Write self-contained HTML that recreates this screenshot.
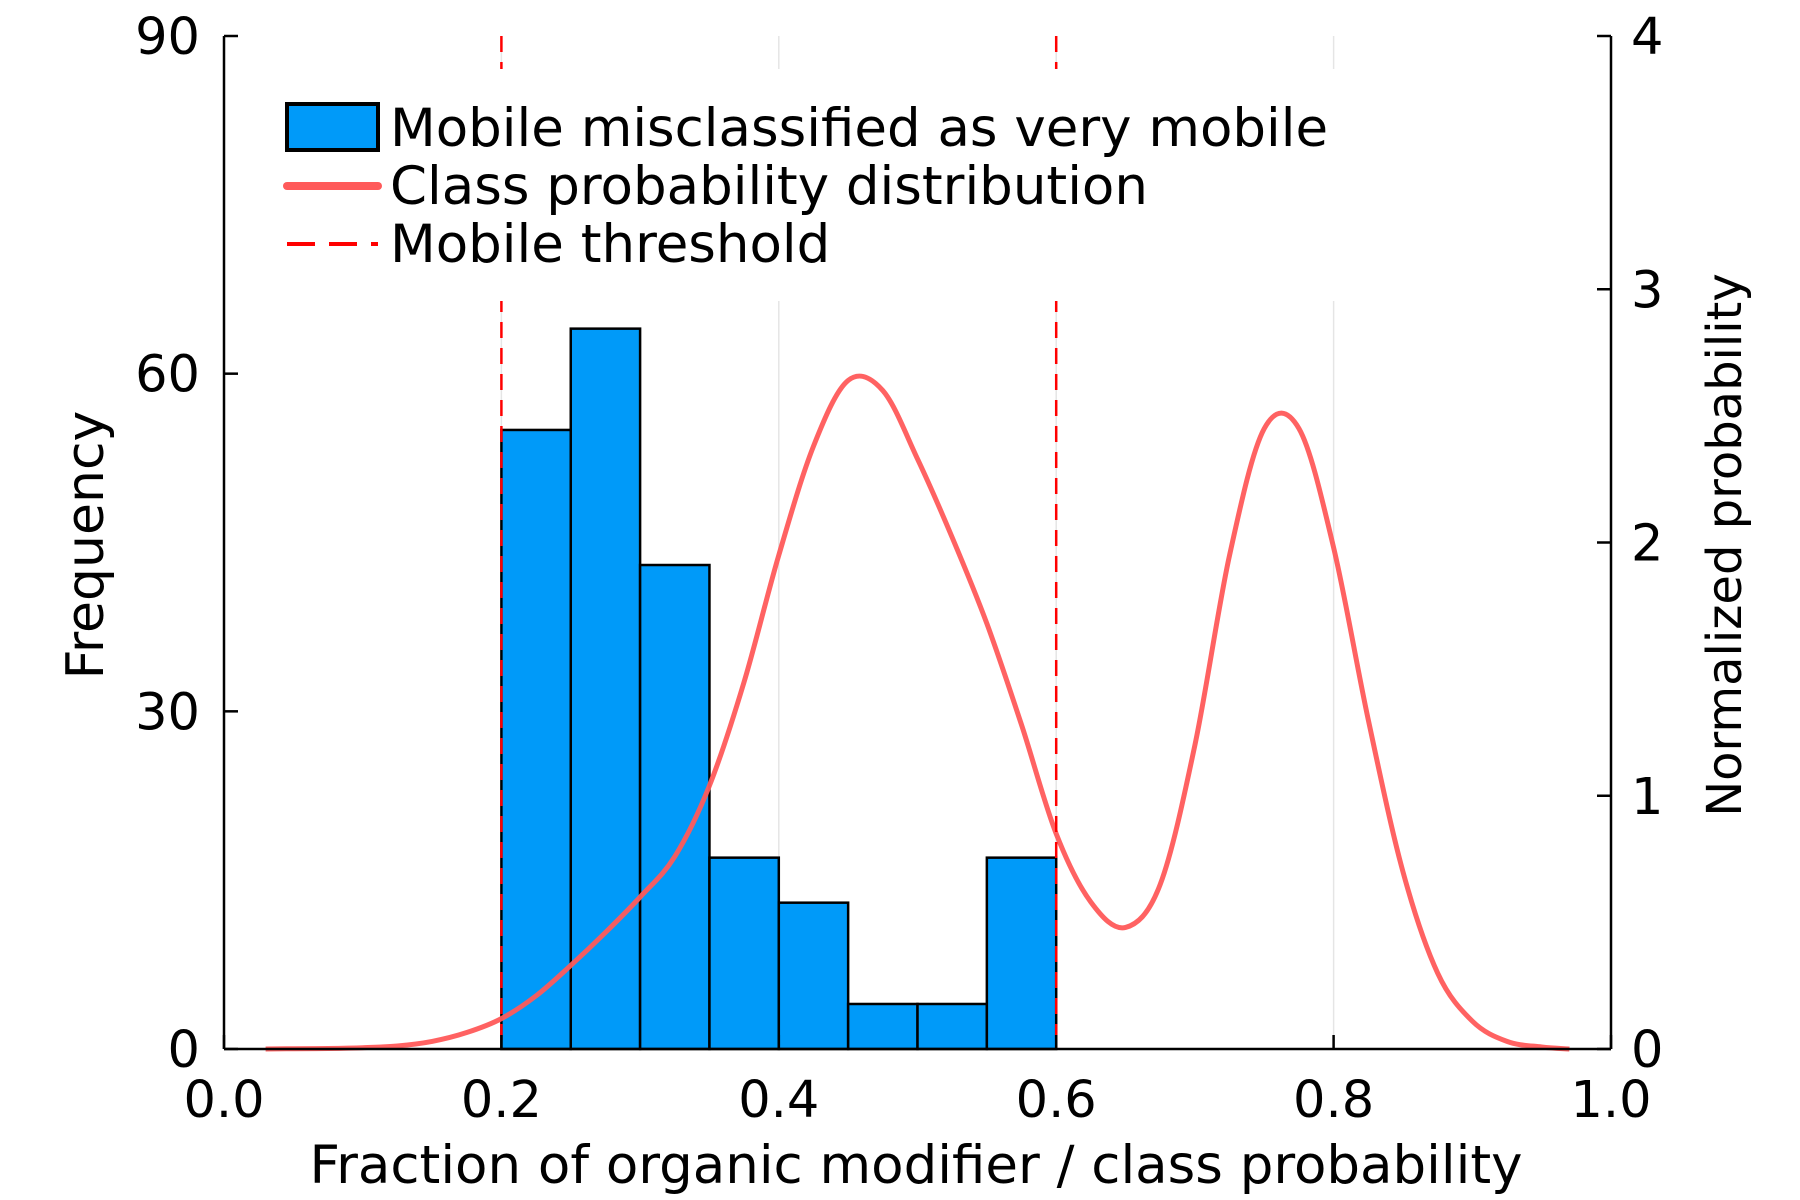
<!DOCTYPE html>
<html><head><meta charset="utf-8"><style>
html,body{margin:0;padding:0;background:#fff;}
svg{display:block;font-family:"DejaVu Sans","Liberation Sans",sans-serif;}
</style></head><body>
<svg id="chart" width="1800" height="1200" viewBox="0 0 1800 1200">
<g id="grid"></g>
<g id="bars"></g>
<g id="curve"></g>
<g id="thresholds"></g>
<g id="axes"></g>
<g id="legend">
  <rect x="270" y="69" width="1073" height="232" fill="#fff"/>
  <rect x="287" y="104" width="91" height="46" fill="#009af9" stroke="#000" stroke-width="4"/>
  <text x="390" y="146" font-size="53">Mobile misclassified as very mobile</text>
  <line x1="287" y1="186" x2="378" y2="186" stroke="#ff5a5a" stroke-width="8" stroke-linecap="round"/>
  <text x="390" y="204" font-size="53">Class probability distribution</text>
  <line x1="287" y1="244" x2="378" y2="244" stroke="#ff0000" stroke-width="4" stroke-dasharray="28,14"/>
  <text x="390" y="262" font-size="53">Mobile threshold</text>
</g>
<text x="916" y="1183" font-size="53" text-anchor="middle">Fraction of organic modifier / class probability</text>
<text transform="translate(103,545) rotate(-90)" font-size="52" text-anchor="middle">Frequency</text>
<text transform="translate(1741,545) rotate(-90)" font-size="48" text-anchor="middle">Normalized probability</text>
</svg>
<script>
const binEdges = [0.2,0.25,0.3,0.35,0.4,0.45,0.5,0.55,0.6];
const binCounts = [55,64,43,17,13,4,4,17];
const curveX = [0.03,0.05,0.075,0.1,0.125,0.15,0.175,0.2,0.225,0.25,0.275,0.3,0.325,0.35,0.375,0.4,0.425,0.45,0.475,0.5,0.525,0.55,0.575,0.6,0.625,0.65,0.675,0.7,0.725,0.75,0.775,0.8,0.825,0.85,0.875,0.9,0.925,0.95,0.97];
const curveY = [0,0.001,0.002,0.005,0.012,0.03,0.065,0.12,0.21,0.33,0.46,0.6,0.76,1.04,1.45,1.95,2.38,2.64,2.6,2.33,2.02,1.68,1.28,0.85,0.58,0.48,0.65,1.2,1.95,2.45,2.45,1.98,1.3,0.7,0.3,0.11,0.03,0.008,0];
const thresholds = [0.2,0.6];
const xTicks = [0.0,0.2,0.4,0.6,0.8,1.0];
const xTickLabels = ["0.0","0.2","0.4","0.6","0.8","1.0"];
const yTicks = [0,30,60,90];
const y2Ticks = [0,1,2,3,4];

const L=224,R=1611,T=36,B=1049,NS='http://www.w3.org/2000/svg';
const sx=v=>L+(R-L)*v;
const sy=v=>B-(B-T)*v/90;
const sy2=v=>B-(B-T)*v/4;
function mk(parent,tag,attrs){const e=document.createElementNS(NS,tag);for(const k in attrs)e.setAttribute(k,attrs[k]);document.getElementById(parent).appendChild(e);return e;}

xTicks.forEach((t,i)=>{
  if(t>0&&t<1){const g=mk('grid','line',{x1:sx(t),x2:sx(t),y1:T,y2:B,stroke:'#000','stroke-opacity':0.1,'stroke-width':1.5});
  
  }
});
binCounts.forEach((c,i)=>{
  const r=mk('bars','rect',{x:sx(binEdges[i]),y:sy(c),width:sx(binEdges[i+1])-sx(binEdges[i]),height:sy(0)-sy(c),fill:'#009af9',stroke:'#000','stroke-width':2.5});
  
  
});
let pts=curveX.map((x,i)=>[sx(x),sy2(curveY[i])]);
let d='M'+pts[0][0]+','+pts[0][1];
for(let i=0;i<pts.length-1;i++){const p0=pts[i-1]||pts[i],p1=pts[i],p2=pts[i+1],p3=pts[i+2]||p2;
 d+=` C${p1[0]+(p2[0]-p0[0])/6},${p1[1]+(p2[1]-p0[1])/6} ${p2[0]-(p3[0]-p1[0])/6},${p2[1]-(p3[1]-p1[1])/6} ${p2[0]},${p2[1]}`;}
const cp=mk('curve','path',{d:d,fill:'none',stroke:'#ff5a5a','stroke-width':5,'stroke-opacity':0.95,'stroke-linejoin':'round'});


thresholds.forEach(t=>{
  const l=mk('thresholds','line',{x1:sx(t),x2:sx(t),y1:T,y2:B,stroke:'#ff0000','stroke-width':2.5,'stroke-dasharray':'16,10'});
  
  
});
[[L,T,L,B],[R,T,R,B],[L,B,R,B]].forEach(a=>{const l=mk('axes','line',{x1:a[0],y1:a[1],x2:a[2],y2:a[3],stroke:'#000','stroke-width':2.5});
 
 });
xTicks.forEach((t,i)=>{
  const tk=mk('axes','line',{x1:sx(t),x2:sx(t),y1:B,y2:B-14,stroke:'#000','stroke-width':2.5});
  
  
  const tx=mk('axes','text',{x:sx(t),y:1117,'font-size':51,'text-anchor':'middle'});tx.textContent=xTickLabels[i];
  
  
});
yTicks.forEach(t=>{
  const tk=mk('axes','line',{x1:L,x2:L+14,y1:sy(t),y2:sy(t),stroke:'#000','stroke-width':2.5});
  
  
  const tx=mk('axes','text',{x:200,y:sy(t)+18,'font-size':51,'text-anchor':'end'});tx.textContent=String(t);
  
  
});
y2Ticks.forEach(t=>{
  const tk=mk('axes','line',{x1:R,x2:R-14,y1:sy2(t),y2:sy2(t),stroke:'#000','stroke-width':2.5});
  
  
  const tx=mk('axes','text',{x:1631,y:sy2(t)+18,'font-size':51,'text-anchor':'start'});tx.textContent=String(t);
  
  
});
</script>
</body></html>
